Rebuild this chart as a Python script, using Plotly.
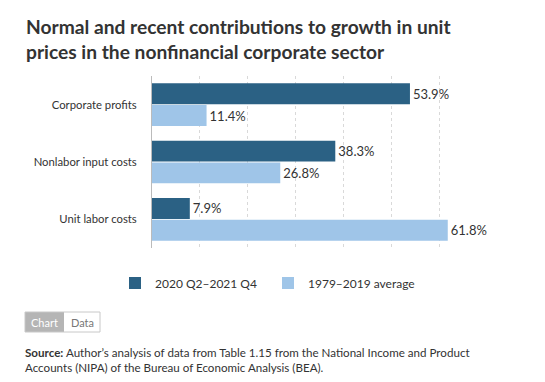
import plotly.graph_objects as go

categories = ["Corporate profits", "Nonlabor input costs", "Unit labor costs"]
recent_values = [53.9, 38.3, 7.9]
normal_values = [11.4, 26.8, 61.8]
series_names = ["2020 Q2\u20132021 Q4", "1979\u20132019 average"]
tick_values = [0, 10, 20, 30, 40, 50, 60, 70]

W, H = 545, 382
L, R, T, B = 152, 58, 76, 134
PW, PH = W - L - R, H - T - B

def px(x):
    return (x - L) / PW

def py(y):
    return (H - B - y) / PH

DARK = "#2b6184"
LIGHT = "#9fc5e8"
TXT = "#333333"
FONT = "Lato, 'Open Sans', sans-serif"

fig = go.Figure()
fig.add_trace(go.Bar(
    y=categories, x=recent_values, name=series_names[0], orientation="h",
    marker=dict(color=DARK, line=dict(width=0)),
    text=[f"{v:.1f}%" for v in recent_values], textposition="outside",
    textfont=dict(size=13, color=TXT, family=FONT), cliponaxis=False,
))
fig.add_trace(go.Bar(
    y=categories, x=normal_values, name=series_names[1], orientation="h",
    marker=dict(color=LIGHT, line=dict(width=0)),
    text=[f"{v:.1f}%" for v in normal_values], textposition="outside",
    textfont=dict(size=13, color=TXT, family=FONT), cliponaxis=False,
))

# Chart/Data toggle
x0, x1, xm, y0, y1 = 25, 100, 64, 312, 332
fig.add_shape(type="rect", xref="paper", yref="paper",
              x0=px(x0), x1=px(xm), y0=py(y1), y1=py(y0),
              fillcolor="#b5b5b5", line=dict(width=0), layer="below")
fig.add_shape(type="rect", xref="paper", yref="paper",
              x0=px(x0), x1=px(x1), y0=py(y1), y1=py(y0),
              fillcolor="rgba(0,0,0,0)", line=dict(color="#c8c8c8", width=1), layer="below")

annotations = [
    dict(text="<b>Normal and recent contributions to growth in unit<br>prices in the nonfinancial corporate sector</b>",
         x=px(24), y=py(13), xref="paper", yref="paper", xanchor="left", yanchor="top",
         align="left", showarrow=False, font=dict(size=19.2, color=TXT, family=FONT)),
    dict(text="Chart", x=px((x0 + xm) / 2), y=py((y0 + y1) / 2), xref="paper", yref="paper",
         xanchor="center", yanchor="middle",
         showarrow=False, font=dict(size=11, color="white", family=FONT)),
    dict(text="Data", x=px((xm + x1) / 2), y=py((y0 + y1) / 2), xref="paper", yref="paper",
         xanchor="center", yanchor="middle",
         showarrow=False, font=dict(size=11, color="#777777", family=FONT)),
    dict(text="<b>Source:</b> Author\u2019s analysis of data from Table 1.15 from the National Income and Product"
              "<br>Accounts (NIPA) of the Bureau of Economic Analysis (BEA).",
         x=px(23), y=py(344), xref="paper", yref="paper", xanchor="left", yanchor="top",
         align="left", showarrow=False, font=dict(size=11.6, color=TXT, family=FONT)),
]

fig.update_layout(
    width=W, height=H,
    margin=dict(l=L, r=R, t=T, b=B, autoexpand=False),
    paper_bgcolor="white", plot_bgcolor="white",
    barmode="group", bargap=0.24, bargroupgap=0.04,
    xaxis=dict(range=[0, 70], tickvals=tick_values, showticklabels=False, showgrid=True,
               gridcolor="#d9d9d9", griddash="dot", gridwidth=1, zeroline=False, showline=False),
    yaxis=dict(autorange="reversed", showgrid=False, showline=True, linecolor="#bbbbbb", linewidth=1,
               ticks="", ticklabelstandoff=12, tickfont=dict(size=11.3, color=TXT, family=FONT)),
    legend=dict(orientation="h", x=px(115), y=py(283), xanchor="left", yanchor="middle",
                font=dict(size=12, color=TXT, family=FONT), traceorder="normal",
                itemwidth=30, entrywidth=108, entrywidthmode="pixels"),
    annotations=annotations,
    showlegend=True,
)

fig.write_html("out.html", post_script="document.body.style.margin='0';",
               config={"displayModeBar": False})
